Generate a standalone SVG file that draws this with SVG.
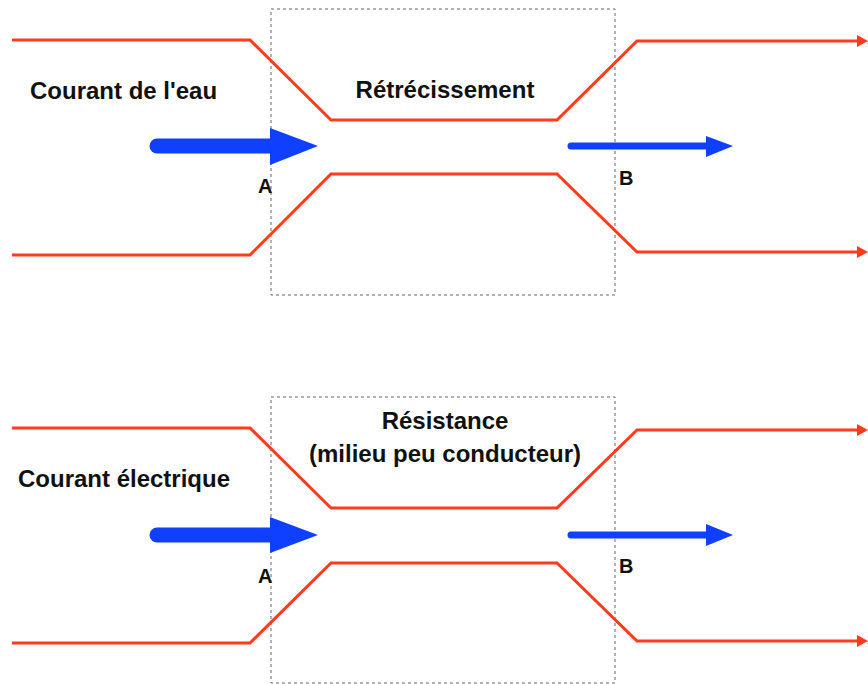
<svg xmlns="http://www.w3.org/2000/svg" width="868" height="684" viewBox="0 0 868 684">
<defs>
<style>
.pipe{fill:none;stroke:#ff3b1c;stroke-width:3;stroke-linejoin:miter}
.box{fill:none;stroke:#666;stroke-width:1;stroke-dasharray:3,3}
.big{stroke:#1040ff;stroke-width:15;stroke-linecap:round;fill:none}
.small{stroke:#1040ff;stroke-width:7;stroke-linecap:round;fill:none}
.head{fill:#1040ff}
.rhead{fill:#ff3b1c}
.t{font-family:"Liberation Sans",Arial,sans-serif;font-weight:bold;font-size:24px;fill:#111}
.l{font-family:"Liberation Sans",Arial,sans-serif;font-weight:bold;font-size:20px;fill:#111}
</style>
</defs>
<rect width="868" height="684" fill="#fff"/>
<g id="box-top"><rect class="box" x="271" y="9" width="344" height="286"/></g>
<g id="box-bottom"><rect class="box" x="271" y="397" width="344" height="286"/></g>
<g id="connectors">
<path class="pipe" d="M12,40 H250 L331,120 H557 L637,41 H860"/>
<polygon class="rhead" points="857,35 868,41 857,47"/>
<path class="pipe" d="M12,255 H250 L331,174 H557 L637,252 H860"/>
<polygon class="rhead" points="857,246 868,252 857,258"/>
<path class="pipe" d="M12,428 H250 L331,508 H557 L637,430 H860"/>
<polygon class="rhead" points="857,424 868,430 857,436"/>
<path class="pipe" d="M12,643 H250 L331,563 H557 L637,641 H860"/>
<polygon class="rhead" points="857,635 868,641 857,647"/>
<line class="big" x1="157" y1="146" x2="272" y2="146"/>
<polygon class="head" points="270,128 318,146 270,165"/>
<line class="small" x1="571" y1="146" x2="708" y2="146"/>
<polygon class="head" points="706,136 733,146 706,157"/>
<line class="big" x1="157" y1="535" x2="272" y2="535"/>
<polygon class="head" points="270,517 318,535 270,553"/>
<line class="small" x1="571" y1="535" x2="708" y2="535"/>
<polygon class="head" points="706,524 733,535 706,546"/>
</g>
<g id="label-eau"><text class="t" x="30" y="99">Courant de l'eau</text></g>
<g id="label-retrecissement"><text class="t" x="445" y="98" text-anchor="middle">Rétrécissement</text></g>
<g id="label-A1"><text class="l" x="258" y="193">A</text></g>
<g id="label-B1"><text class="l" x="619" y="185">B</text></g>
<g id="label-elec"><text class="t" x="18" y="487">Courant électrique</text></g>
<g id="label-resistance"><text class="t" x="445" y="429" text-anchor="middle">Résistance</text><text class="t" x="445" y="462" text-anchor="middle">(milieu peu conducteur)</text></g>
<g id="label-A2"><text class="l" x="258" y="583">A</text></g>
<g id="label-B2"><text class="l" x="619" y="573">B</text></g>
</svg>
